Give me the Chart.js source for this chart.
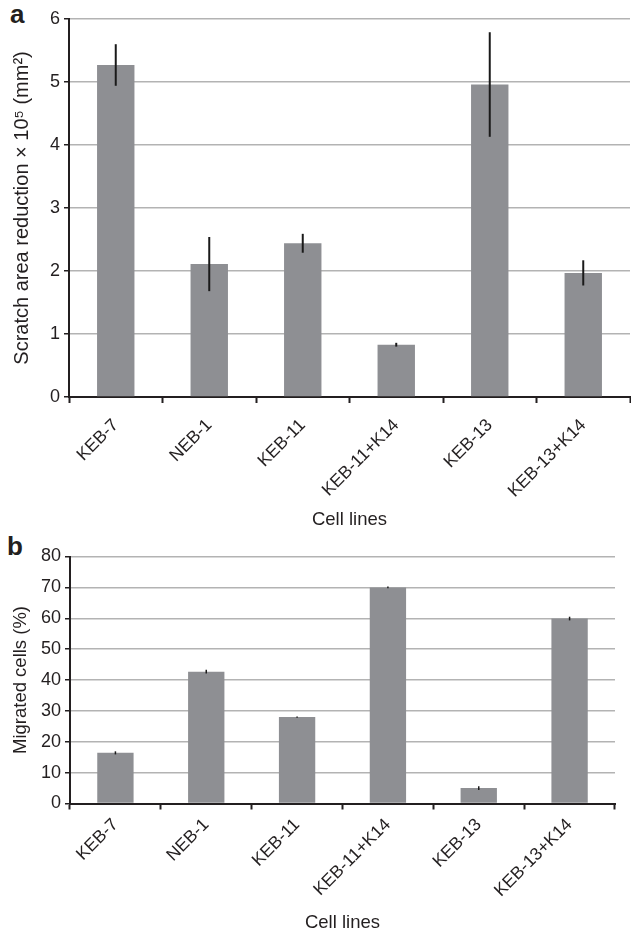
<!DOCTYPE html>
<html>
<head>
<meta charset="utf-8">
<script src="https://cdn.jsdelivr.net/npm/chart.js@4"></script>
<style>
  body { margin: 0; background: #fff; width: 631px; height: 935px; position: relative; overflow: hidden; }
  canvas { position: absolute; left: 0; }
  .panel { position: absolute; font-family: "Liberation Sans", Arial, sans-serif; font-weight: bold; font-size: 26px; color: #231f20; }
</style>
</head>
<body>
<div class="panel" style="left:10px;top:-1px;">a</div>
<div class="panel" style="left:7px;top:531px;">b</div>
<canvas id="chartA" width="631" height="538" style="top:0"></canvas>
<canvas id="chartB" width="631" height="397" style="top:538px"></canvas>
<script>
// data
const cellLines = ['KEB-7', 'NEB-1', 'KEB-11', 'KEB-11+K14', 'KEB-13', 'KEB-13+K14'];
const scratchValues = [5.27, 2.11, 2.44, 0.83, 4.96, 1.97];
const scratchErrors = [0.33, 0.43, 0.15, 0.03, 0.83, 0.2];
const migratedValues = [16.4, 42.7, 28.0, 70.0, 5.0, 59.9];
const migratedErrors = [0.5, 0.6, 0.2, 0.3, 0.6, 0.6];
const scratchTicks = [0, 1, 2, 3, 4, 5, 6];
const migratedTicks = [0, 10, 20, 30, 40, 50, 60, 70, 80];

const FONT = '"Liberation Sans", Arial, sans-serif';
const TEXT = '#231f20';
const BAR = '#8e8f93';

// simple error bar plugin, uses the y scale to place the whiskers
const errorBars = {
    id: 'errorBars',
    afterDatasetsDraw(chart, args, opts) {
        const ctx = chart.ctx;
        const y = chart.scales.y;
        const meta = chart.getDatasetMeta(0);
        const vals = chart.data.datasets[0].data;
        ctx.save();
        ctx.strokeStyle = '#1a1a1a';
        ctx.lineWidth = opts.width || 1.5;
        meta.data.forEach(function(bar, i) {
            const e = opts.errors[i];
            ctx.beginPath();
            ctx.moveTo(bar.x, y.getPixelForValue(vals[i] + e));
            ctx.lineTo(bar.x, y.getPixelForValue(vals[i] - e));
            ctx.stroke();
        });
        ctx.restore();
    }
};

function makeChart(id, values, errors, ticks, yTitle, yMax, sizes) {
    const ctx = document.getElementById(id).getContext('2d');
    return new Chart(ctx, {
        type: 'bar',
        data: {
            labels: cellLines,
            datasets: [{
                data: values,
                backgroundColor: BAR,
                borderWidth: 0,
                barPercentage: 0.4,
                categoryPercentage: 1
            }]
        },
        plugins: [errorBars],
        options: {
            responsive: false,
            animation: false,
            layout: { padding: sizes.padding },
            plugins: {
                legend: { display: false },
                tooltip: { enabled: false },
                errorBars: { errors: errors, width: sizes.errWidth }
            },
            scales: {
                x: {
                    afterFit: function(scale) { scale.height = sizes.xHeight; },
                    grid: {
                        drawOnChartArea: false,
                        drawTicks: true,
                        tickLength: 6,
                        tickColor: TEXT,
                        tickWidth: 2
                    },
                    border: { color: TEXT, width: 2 },
                    ticks: {
                        minRotation: 45,
                        maxRotation: 45,
                        padding: sizes.labelPad,
                        color: TEXT,
                        font: { family: FONT, size: 17.5 }
                    },
                    title: {
                        display: true,
                        text: 'Cell lines',
                        color: TEXT,
                        font: { family: FONT, size: 18.5 },
                        padding: { top: 0, bottom: sizes.titleBottom }
                    }
                },
                y: {
                    min: 0,
                    max: yMax,
                    afterFit: function(scale) { scale.width = sizes.yWidth; },
                    afterBuildTicks: function(scale) {
                        scale.ticks = ticks.map(function(v) { return { value: v }; });
                    },
                    grid: {
                        color: '#b3b3b3',
                        lineWidth: 1.5,
                        tickLength: 5,
                        tickColor: TEXT,
                        tickWidth: 1.5
                    },
                    border: { color: TEXT, width: 2 },
                    ticks: {
                        padding: 4,
                        color: TEXT,
                        font: { family: FONT, size: 18 }
                    },
                    title: {
                        display: true,
                        text: yTitle,
                        color: TEXT,
                        font: { family: FONT, size: sizes.yTitleSize },
                        padding: { top: 10, bottom: 0 }
                    }
                }
            }
        }
    });
}

makeChart('chartA', scratchValues, scratchErrors, scratchTicks,
    'Scratch area reduction \u00d7 10\u2075 (mm\u00b2)', 6,
    { padding: { top: 19, right: 1, left: 0, bottom: 0 }, xHeight: 141, yWidth: 69,
      titleBottom: 7, errWidth: 2, yTitleSize: 20, labelPad: 12 });

makeChart('chartB', migratedValues, migratedErrors, migratedTicks,
    'Migrated cells (%)', 80,
    { padding: { top: 18.5, right: 16, left: 0, bottom: 0 }, xHeight: 131.5, yWidth: 70,
      titleBottom: 1, errWidth: 1.5, yTitleSize: 18.5, labelPad: 5 });
</script>
</body>
</html>
